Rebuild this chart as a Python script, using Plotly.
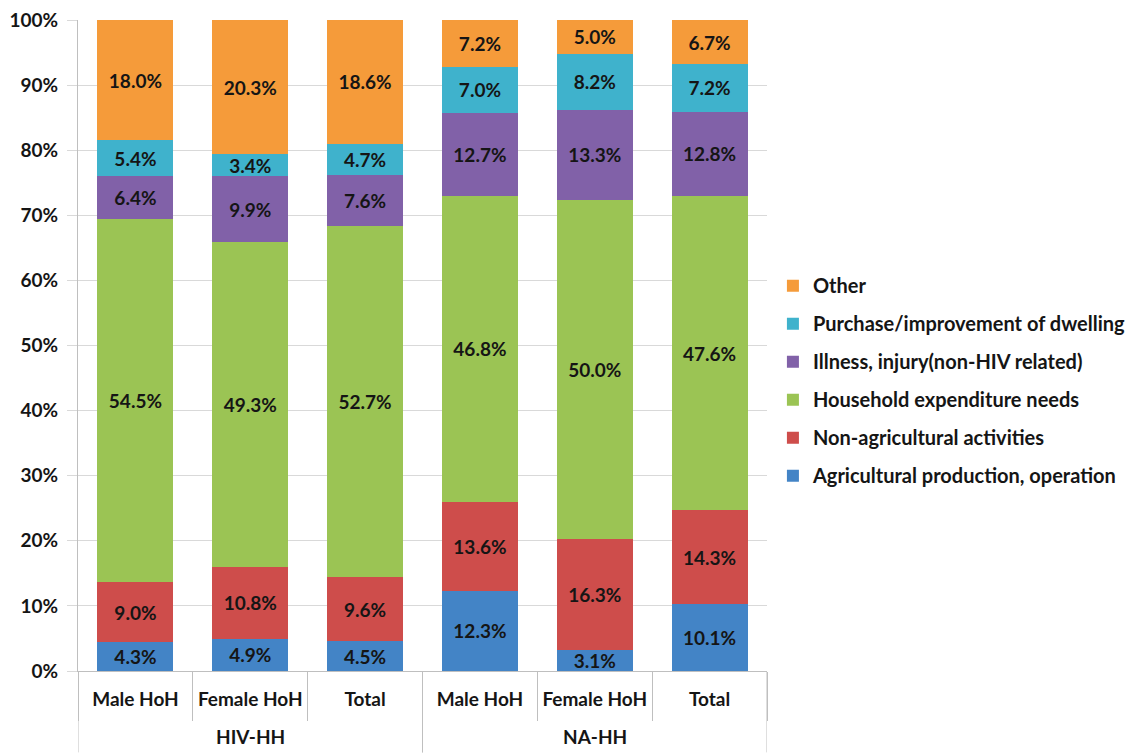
import plotly.graph_objects as go

groups = ["HIV-HH", "HIV-HH", "HIV-HH", "NA-HH", "NA-HH", "NA-HH"]
subcats = ["Male HoH", "Female HoH", "Total", "Male HoH", "Female HoH", "Total"]

series_names = [
    "Agricultural production, operation",
    "Non-agricultural activities",
    "Household expenditure needs",
    "Illness, injury(non-HIV related)",
    "Purchase/improvement of dwelling",
    "Other",
]
agri = [4.3, 4.9, 4.5, 12.3, 3.1, 10.1]
nonagri = [9.0, 10.8, 9.6, 13.6, 16.3, 14.3]
household = [54.5, 49.3, 52.7, 46.8, 50.0, 47.6]
illness = [6.4, 9.9, 7.6, 12.7, 13.3, 12.8]
dwelling = [5.4, 3.4, 4.7, 7.0, 8.2, 7.2]
other = [18.0, 20.3, 18.6, 7.2, 5.0, 6.7]
series_values = [agri, nonagri, household, illness, dwelling, other]
colors = ["#4384C6", "#CE4D4B", "#9BC454", "#8161A8", "#3FB2CC", "#F59B3A"]

ytick_vals = list(range(0, 101, 10))
ytick_text = [f"{v}%" for v in ytick_vals]

# unique category keys, labelled with the sub-category name
cat_keys = [f"{g} | {s}" for g, s in zip(groups, subcats)]

FONT = "Lato"
TXT = "#151515"
AXC = "#BFBFBF"

fig = go.Figure()
for i, (name, vals, col) in enumerate(zip(series_names, series_values, colors)):
    fig.add_trace(go.Bar(
        x=cat_keys, y=vals, name=name,
        marker=dict(color=col, line=dict(width=0)),
        text=[f"{v:.1f}%" for v in vals],
        textposition="inside", insidetextanchor="middle", textangle=0,
        textfont=dict(family=FONT, size=19, color=TXT, weight="bold"),
        legendgroup=name, legendrank=100 - i,
        hoverinfo="skip",
    ))

# group labels and group dividers
group_names = []
for g in groups:
    if g not in group_names:
        group_names.append(g)
annotations = []
shapes = []
for g in group_names:
    idx = [k for k, gg in enumerate(groups) if gg == g]
    mid = (idx[0] + idx[-1]) / 2
    annotations.append(dict(
        x=mid, xref="x", y=-0.101, yref="paper", text=g, showarrow=False,
        font=dict(family=FONT, size=19, color=TXT, weight="bold"),
        xanchor="center", yanchor="middle",
    ))
    for b in (idx[0] - 0.5, idx[-1] + 0.5):
        shapes.append(dict(type="line", xref="x", yref="paper",
                           x0=b, x1=b, y0=0, y1=-0.125,
                           line=dict(color=AXC, width=1)))

fig.update_layout(
    barmode="stack", barnorm="percent", bargap=0.338,
    width=1139, height=754,
    margin=dict(l=70, r=380, t=12, b=91, autoexpand=False),
    paper_bgcolor="white", plot_bgcolor="white",
    uniformtext=dict(minsize=19, mode="show"),
    font=dict(family=FONT, size=18, color=TXT),
    annotations=annotations, shapes=shapes,
    legend=dict(
        traceorder="grouped", tracegroupgap=9,
        x=1.0086, xanchor="left", y=0.446, yanchor="middle",
        font=dict(family=FONT, size=20, color=TXT, weight="bold"),
        itemwidth=30, bgcolor="rgba(0,0,0,0)",
    ),
    showlegend=True,
)
fig.update_yaxes(
    range=[0, 100], tickvals=ytick_vals, ticktext=ytick_text,
    showgrid=True, gridcolor="#D9D9D9", gridwidth=1,
    showline=True, linecolor=AXC, linewidth=1,
    ticks="outside", ticklen=10, tickcolor="#D9D9D9",
    ticklabelstandoff=5, ticklabeloverflow="allow",
    tickfont=dict(family=FONT, size=19, color=TXT, weight="bold"),
    zeroline=False, automargin=False,
)
fig.update_xaxes(
    type="category", tickvals=cat_keys, ticktext=subcats,
    range=[-0.5, len(cat_keys) - 0.5],
    showline=True, linecolor=AXC, linewidth=1,
    ticks="outside", ticklen=49, tickcolor=AXC, tickson="boundaries",
    ticklabelstandoff=11, ticklabeloverflow="allow",
    tickfont=dict(family=FONT, size=19, color=TXT, weight="bold"),
    automargin=False,
)
fig.write_html("out.html")
